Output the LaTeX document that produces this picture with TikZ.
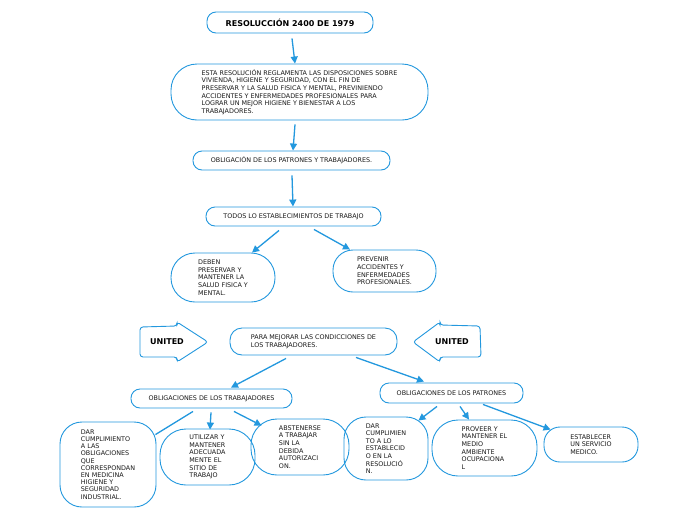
\documentclass[tikz,border=0pt]{standalone}
\usepackage{fontspec}
\setmainfont{DejaVu Sans}
\usetikzlibrary{arrows.meta,calc}
\definecolor{ublue}{RGB}{35,152,222}
\definecolor{utext}{RGB}{25,25,25}
\tikzset{
  box/.style={draw=ublue, line width=0.9pt, align=left, inner sep=0pt,
    text=utext, font=\fontsize{6.4}{7.6}\selectfont},
  arr/.style={draw=ublue, line width=1.3pt, -{Triangle[length=7pt,width=7pt]}},
  ln/.style={draw=ublue, line width=1.3pt},
  unarrow/.style={draw=ublue, line width=0.9pt, rounded corners=3pt},
  untext/.style={font=\bfseries\fontsize{8}{9}\selectfont, text=black, inner sep=0pt}
}
\begin{document}
\begin{tikzpicture}[x=1pt,y=-1pt]
\useasboundingbox (0,0) rectangle (696,520);
\fill[white] (0,0) rectangle (696,520);

\node[box, minimum width=166pt, minimum height=21pt, rounded corners=9pt,
  font=\bfseries\fontsize{8}{9}\selectfont, text=black] (n1) at (290,22.5) {RESOLUCCIÓN 2400 DE 1979};
\node[box, minimum width=257pt, minimum height=56pt, rounded corners=26pt] (n2) at (299.5,92)
  {ESTA RESOLUCIÓN REGLAMENTA LAS DISPOSICIONES SOBRE\\VIVIENDA, HIGIENE Y SEGURIDAD, CON EL FIN DE\\PRESERVAR Y LA SALUD FISICA Y MENTAL, PREVINIENDO\\ACCIDENTES Y ENFERMEDADES PROFESIONALES PARA\\LOGRAR UN MEJOR HIGIENE Y BIENESTAR A LOS\\TRABAJADORES.};
\node[box, minimum width=197pt, minimum height=19pt, rounded corners=9pt] (n3) at (291.5,160.5)
  {OBLIGACIÓN DE LOS PATRONES Y TRABAJADORES.};
\node[box, minimum width=175pt, minimum height=19pt, rounded corners=9pt] (n4) at (293.5,216.5)
  {TODOS LO ESTABLECIMIENTOS DE TRABAJO};
\node[box, minimum width=104pt, minimum height=49pt, rounded corners=24pt] (n5) at (223,277.5)
  {DEBEN\\PRESERVAR Y\\MANTENER LA\\SALUD FISICA Y\\MENTAL.};
\node[box, minimum width=103pt, minimum height=42pt, rounded corners=20pt] (n6) at (384.5,271)
  {PREVENIR\\ACCIDENTES Y\\ENFERMEDADES\\PROFESIONALES.};
\node[box, minimum width=167pt, minimum height=27pt, rounded corners=12pt] (n8) at (313.5,341.5)
  {PARA MEJORAR LAS CONDICCIONES DE\\LOS TRABAJADORES.};
\node[box, minimum width=161pt, minimum height=19pt, rounded corners=9pt] (n10) at (211.5,398.5)
  {OBLIGACIONES DE LOS TRABAJADORES};
\node[box, minimum width=143pt, minimum height=20pt, rounded corners=9pt] (n11) at (451.5,393)
  {OBLIGACIONES DE LOS PATRONES};
\node[box, minimum width=96pt, minimum height=85pt, rounded corners=22pt,
  font=\fontsize{6.4}{7.2}\selectfont] (n12) at (108,464.5)
  {DAR\\CUMPLIMIENTO\\A LAS\\OBLIGACIONES\\QUE\\CORRESPONDAN\\EN MEDICINA\\HIGIENE Y\\SEGURIDAD\\INDUSTRIAL.};
\node[box, minimum width=95pt, minimum height=56pt, rounded corners=26pt] (n13) at (207.5,457)
  {UTILIZAR Y\\MANTENER\\ADECUADA\\MENTE EL\\SITIO DE\\TRABAJO};
\node[box, minimum width=98pt, minimum height=56pt, rounded corners=26pt] (n14) at (300,447)
  {ABSTENERSE\\A TRABAJAR\\SIN LA\\DEBIDA\\AUTORIZACI\\ON.};
\node[box, minimum width=84pt, minimum height=63pt, rounded corners=22pt] (n15) at (386,448.5)
  {DAR\\CUMPLIMIEN\\TO A LO\\ESTABLECID\\O EN LA\\RESOLUCIÓ\\N.};
\node[box, minimum width=105pt, minimum height=56pt, rounded corners=26pt] (n16) at (484.5,448)
  {PROVEER Y\\MANTENER EL\\MEDIO\\AMBIENTE\\OCUPACIONA\\L};
\node[box, minimum width=94pt, minimum height=35pt, rounded corners=16pt] (n17) at (591,444.5)
  {ESTABLECER\\UN SERVICIO\\MEDICO.};

% UNITED arrows
\draw[unarrow] (140,327) -- (177,326) -- (177,322) -- (208,342) -- (177,362) -- (177,357) -- (140,357) -- cycle;
\node[untext] (u1) at (167,342) {UNITED};
\draw[unarrow] (413,342) -- (440,322) -- (440,325) -- (480,326) -- (481,357) -- (440,357) -- (440,362) -- cycle;
\node[untext] (u2) at (452,342) {UNITED};

% connectors
\draw[arr] ($(n1.south)+(2,5)$) -- ($(n2.north)+(-4.5,0)$);
\draw[arr] ($(n2.south)+(-4.5,4)$) -- ($(n3.north)+(1.5,0)$);
\draw[arr] ($(n3.south)+(0.5,5)$) -- ($(n4.north)+(-0.5,0)$);
\draw[arr] ($(n4.south)+(-14.5,4)$) -- ($(n5.north)+(29,0)$);
\draw[arr] ($(n4.south)+(20.5,3)$) -- ($(n6.north)+(-34.5,0)$);
\draw[arr] ($(n8.south)+(-27.5,3)$) -- ($(n10.north)+(19.5,-1)$);
\draw[arr] ($(n8.south)+(42.5,2)$) -- ($(n11.north)+(-27.5,-1)$);
\draw[ln]  ($(n10.south)+(-18.5,3)$) -- ($(n12.north east)+(-1,13)$);
\draw[arr] ($(n10.south)+(-0.5,4)$) -- ($(n13.north)+(2.5,1)$);
\draw[arr] ($(n10.south)+(22.5,3)$) -- ($(n14.north west)+(11,7)$);
\draw[arr] ($(n11.south)+(-14.5,3)$) -- ($(n15.north east)+(-10,4)$);
\draw[arr] ($(n11.south)+(8.5,3)$) -- ($(n16.north)+(-15.5,0)$);
\draw[arr] ($(n11.south)+(31.5,1)$) -- ($(n17.north west)+(7,3)$);
\end{tikzpicture}
\end{document}
